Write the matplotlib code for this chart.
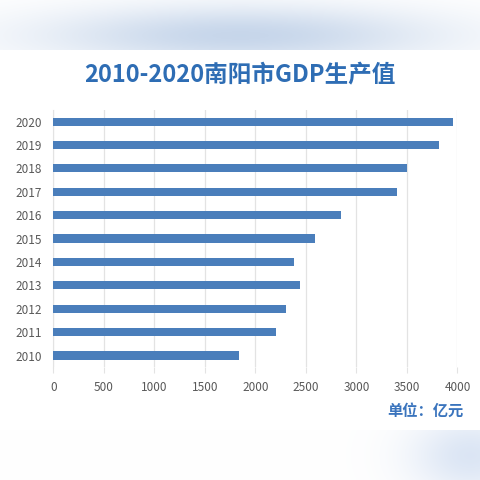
import matplotlib.pyplot as plt
from matplotlib.patches import Rectangle
import numpy as np

plt.rcParams['font.family'] = ['Noto Sans CJK SC', 'DejaVu Sans']

years = ['2010', '2011', '2012', '2013', '2014', '2015', '2016', '2017', '2018', '2019', '2020']
gdp = [1840, 2200, 2300, 2445, 2380, 2595, 2845, 3405, 3500, 3820, 3960]
xticks = [0, 500, 1000, 1500, 2000, 2500, 3000, 3500, 4000]

fig = plt.figure(figsize=(4.8, 4.8), dpi=100)

# soft blurred bands above and below the chart card
def blob(h, w, cx, cy, sx, sy, rgb):
    yy, xx = np.mgrid[0:h, 0:w]
    wgt = np.exp(-(((xx - cx) / sx) ** 2 + ((yy - cy) / sy) ** 2))
    img = np.ones((h, w, 3))
    for i in range(3):
        img[:, :, i] = 1 - wgt * (1 - rgb[i])
    return img

bg_top = fig.add_axes([0, 1 - 50 / 480, 1, 50 / 480])
bg_top.imshow(blob(50, 480, 240, 35, 200, 30, (0.78, 0.84, 0.92)), aspect='auto')
bg_top.axis('off')
bg_bot = fig.add_axes([0, 0, 1, 50 / 480])
bg_bot.imshow(blob(50, 480, 470, 25, 60, 40, (0.86, 0.90, 0.96)) * 0.97 + 0.03 * 0.93, aspect='auto')
bg_bot.axis('off')

ax = fig.add_axes([0.111, 0.235, 0.842, 0.536])
y = np.arange(len(years))
ax.barh(y, gdp, height=0.35, color='#4a7ebb', zorder=3)
ax.set_yticks(y)
ax.set_yticklabels(years)
ax.set_xticks(xticks)
ax.set_xlim(0, 4000)
ax.set_ylim(-0.5, len(years) - 0.5)
ax.grid(axis='x', color='#e3e3e3', linewidth=0.9, zorder=0)
for s in ['top', 'right', 'bottom']:
    ax.spines[s].set_visible(False)
ax.spines['left'].set_color('#e3e3e3')
ax.tick_params(axis='y', length=0, labelsize=8.5, labelcolor='#595959', pad=8)
ax.tick_params(axis='x', length=4, color='#e3e3e3', labelsize=8.5,
               labelcolor='#595959', pad=6)

fig.text(0.5, 0.843, '2010-2020南阳市GDP生产值', ha='center', va='center',
         fontsize=17, fontweight='bold', color='#2e6db4')
fig.text(0.965, 0.145, '单位：亿元', ha='right', va='center',
         fontsize=11, fontweight='bold', color='#3a74bd')

fig.savefig('out.png', dpi=100)
